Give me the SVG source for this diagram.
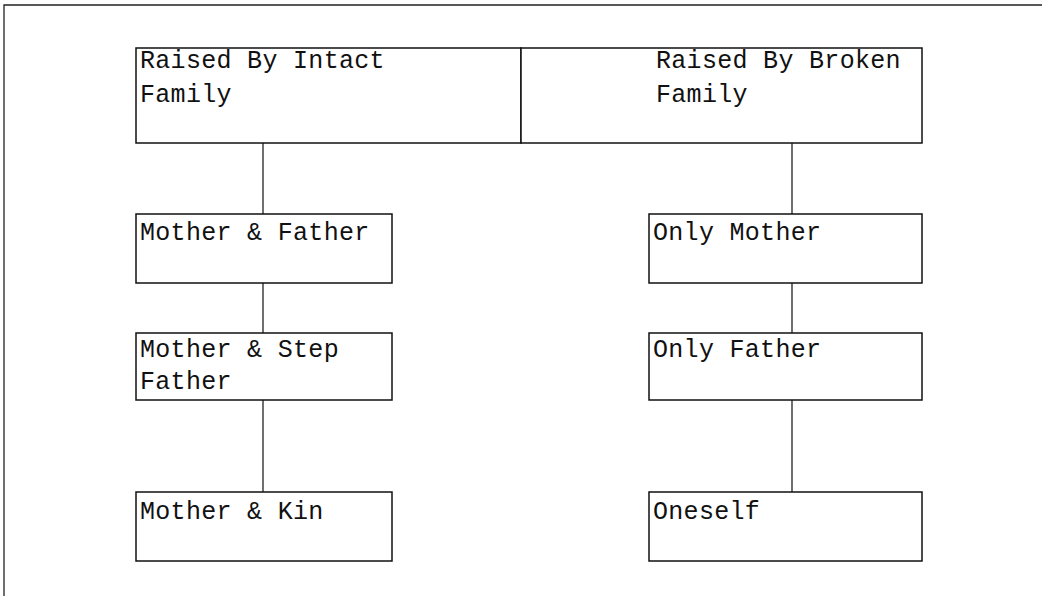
<svg xmlns="http://www.w3.org/2000/svg" width="1042" height="596" viewBox="0 0 1042 596">
<style>
.box{fill:#fff;stroke:#111;stroke-width:1.5}
.ln{stroke:#222;stroke-width:1.3;fill:none}
.t{font-family:"Liberation Mono","Courier New",monospace;font-size:25px;fill:#111;letter-spacing:0.3px}
</style>
<rect width="1042" height="596" fill="#fff"/>
<g id="frame">
<path class="ln" d="M4,596 V5 H1042" stroke-width="2"/>
</g>
<g id="connectors">
<line class="ln" x1="263" y1="143" x2="263" y2="214"/>
<line class="ln" x1="263" y1="283" x2="263" y2="333"/>
<line class="ln" x1="263" y1="400" x2="263" y2="492"/>
<line class="ln" x1="792" y1="143" x2="792" y2="214"/>
<line class="ln" x1="792" y1="283" x2="792" y2="333"/>
<line class="ln" x1="792" y1="400" x2="792" y2="492"/>
</g>
<g id="intact">
<rect class="box" x="136" y="48" width="385" height="95"/>
<text class="t" x="140" y="68">Raised By Intact</text>
<text class="t" x="140" y="102">Family</text>
</g>
<g id="broken">
<rect class="box" x="521" y="48" width="401" height="95"/>
<text class="t" x="656" y="68">Raised By Broken</text>
<text class="t" x="656" y="102">Family</text>
</g>
<g id="mother-father">
<rect class="box" x="136" y="214" width="256" height="69"/>
<text class="t" x="140" y="240">Mother &amp; Father</text>
</g>
<g id="mother-stepfather">
<rect class="box" x="136" y="333" width="256" height="67"/>
<text class="t" x="140" y="357">Mother &amp; Step</text>
<text class="t" x="140" y="389">Father</text>
</g>
<g id="mother-kin">
<rect class="box" x="136" y="492" width="256" height="69"/>
<text class="t" x="140" y="519">Mother &amp; Kin</text>
</g>
<g id="only-mother">
<rect class="box" x="649" y="214" width="273" height="69"/>
<text class="t" x="653" y="240">Only Mother</text>
</g>
<g id="only-father">
<rect class="box" x="649" y="333" width="273" height="67"/>
<text class="t" x="653" y="357">Only Father</text>
</g>
<g id="oneself">
<rect class="box" x="649" y="492" width="273" height="69"/>
<text class="t" x="653" y="519">Oneself</text>
</g>
</svg>
